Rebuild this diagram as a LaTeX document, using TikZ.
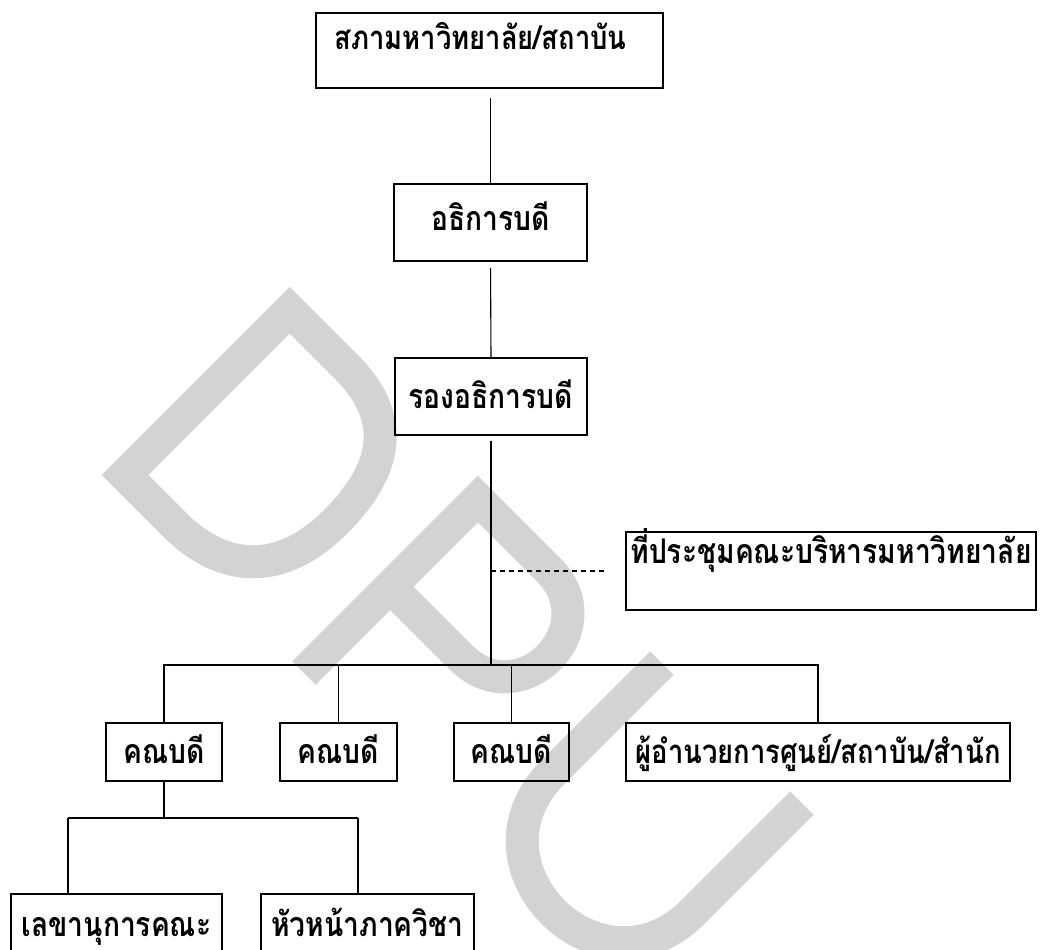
\documentclass[tikz,border=0pt]{standalone}
\usepackage{fontspec}
\newfontfamily\thaifont[Script=Thai, FakeStretch=0.83]{Loma}
\definecolor{wm}{RGB}{211,211,211}
\begin{document}
\begin{tikzpicture}[x=1pt,y=-1pt,
  box/.style={draw, line width=1.7pt, inner sep=0pt, font=\thaifont\bfseries\fontsize{34}{38}\selectfont, text height=30pt},
  smalltext/.style={font=\thaifont\bfseries\fontsize{33}{38}\selectfont},
  openbox/.style={draw=none, inner sep=0pt, font=\thaifont\bfseries\fontsize{34}{38}\selectfont, text height=36pt, text depth=2pt},
  boxline/.style={line width=1.7pt},
  conn/.style={line width=1.1pt},
  dashconn/.style={line width=1.1pt, dash pattern=on 5pt off 4pt},
  wmline/.style={draw=wm, line width=33pt, line join=miter}]
\useasboundingbox (0,0) rectangle (1044,950);
\clip (0,0) rectangle (1044,950);
% watermark
\begin{scope}[shift={(125,475)}, rotate=-45, y=1pt]
  \draw[wmline] (0,0) -- (0,233) -- (80,233) .. controls (160,233) and (182,180) .. (182,116) .. controls (182,40) and (140,0) .. (70,0) -- cycle;
\end{scope}
\begin{scope}[shift={(304,673)}, rotate=-45, y=1pt]
  \draw[wmline] (0,0) -- (0,246) -- (100,246) .. controls (183,246) and (183,122) .. (100,122) -- (0,122);
\end{scope}
\begin{scope}[shift={(483,842)}, rotate=-45, y=1pt]
  \draw[wmline] (0,253) -- (0,99) .. controls (0,-33) and (198,-33) .. (198,99) -- (198,253);
\end{scope}
% boxes
\node[box, smalltext, minimum width=347pt, minimum height=75pt, text depth=31pt] (council) at (489.5,50.5) {\hspace*{-18pt}สภามหาวิทยาลัย/สถาบัน};
\node[box, minimum width=193pt, minimum height=77pt, text depth=15pt] (pres) at (490.5,222.5) {อธิการบดี};
\node[box, minimum width=192pt, minimum height=77pt, text depth=7pt] (vp) at (491,396.5) {รองอธิการบดี};
\node[box, minimum width=410pt, minimum height=78pt, text depth=46pt] (meet) at (831,571) {ที่ประชุมคณะบริหารมหาวิทยาลัย};
\node[box, minimum width=116pt, minimum height=58pt, text depth=8pt] (dean1) at (164,752) {คณบดี};
\node[box, minimum width=117pt, minimum height=58pt, text depth=8pt] (dean2) at (338.5,752) {คณบดี};
\node[box, minimum width=115pt, minimum height=58pt, text depth=8pt] (dean3) at (511.5,752) {คณบดี};
\node[box, smalltext, minimum width=384pt, minimum height=58pt, text depth=8pt] (dir) at (818,752) {ผู้อำนวยการศูนย์/สถาบัน/สำนัก};
\node[openbox, minimum width=211pt, minimum height=50pt] (sec) at (116.5,919) {เลขานุการคณะ};
\node[openbox, minimum width=213pt, minimum height=50pt] (head) at (367.5,919) {หัวหน้าภาควิชา};
\coordinate (bot) at (0,952);
\draw[boxline] (sec.north west |- bot) -- (sec.north west) -- (sec.north east) -- (sec.north east |- bot);
\draw[boxline] (head.north west |- bot) -- (head.north west) -- (head.north east) -- (head.north east |- bot);
% connectors
\coordinate (trunkend) at (491,665);
\coordinate (subL) at (68,818);
\coordinate (subR) at (358,818);
\coordinate (dj) at (491,571);
\draw[conn, shorten <=9pt] (council.south -| pres.north) -- (pres.north);
\draw[conn, shorten <=6pt] (pres.south) -- (vp.north);
\draw[conn, shorten <=5pt] (vp.south) -- (trunkend);
\draw[dashconn, shorten >=19pt] (dj) -- (meet.west);
\draw[conn] (dean1.north) -- (dean1.north |- trunkend) -- (dir.north |- trunkend) -- (dir.north);
\draw[conn] (dean2.north) -- (dean2.north |- trunkend);
\draw[conn] (dean3.north) -- (dean3.north |- trunkend);
\draw[conn] (dean1.south) -- (dean1.south |- subL);
\draw[conn] (subL) -- (subR);
\draw[conn] (subL) -- (subL |- sec.north);
\draw[conn] (subR) -- (subR |- head.north);
\end{tikzpicture}
\end{document}
